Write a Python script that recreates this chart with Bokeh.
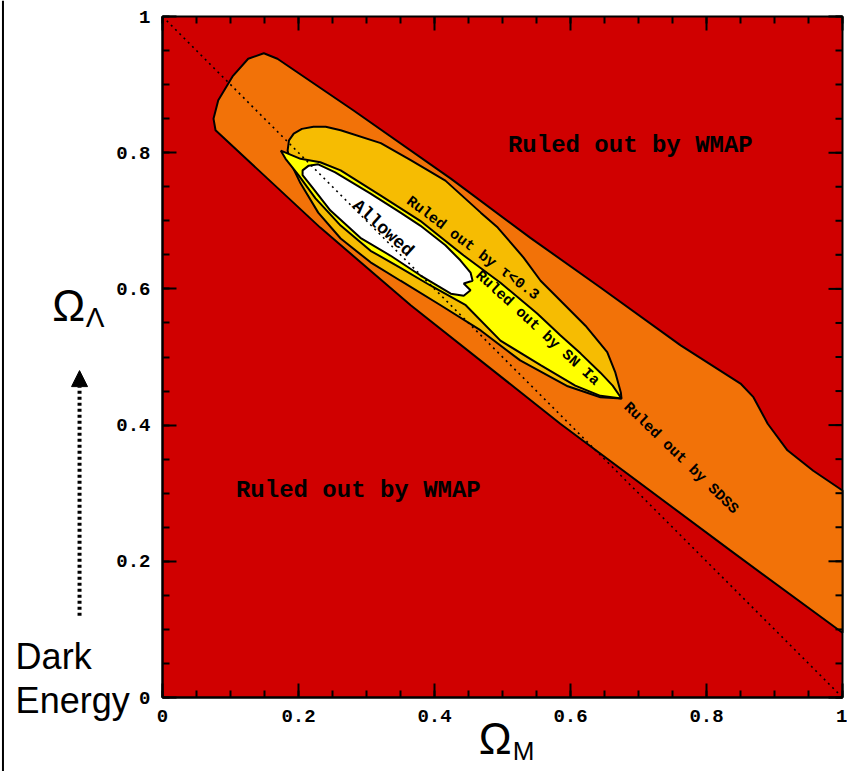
from bokeh.plotting import figure
from bokeh.models import Range1d, FixedTicker, LinearAxis, Label, Arrow, NormalHead, Span
from bokeh.embed import file_html
from bokeh.resources import INLINE
from bokeh.core.properties import value

# ---------------- data ----------------
# SDSS-allowed band (orange)
sdss_om = [0.078, 0.075, 0.082, 0.103, 0.126, 0.149, 0.169, 0.281, 0.424, 0.541, 0.644,
           0.762, 0.850, 0.869, 0.890, 0.919, 0.957, 1.000, 1.000, 0.835, 0.585, 0.365, 0.232]
sdss_ol = [0.833, 0.850, 0.877, 0.912, 0.938, 0.946, 0.938, 0.862, 0.762, 0.675, 0.602,
           0.517, 0.461, 0.441, 0.402, 0.363, 0.333, 0.304, 0.095, 0.216, 0.402, 0.576, 0.690]

# tau < 0.3 region (gold)
tau_om = [0.184, 0.186, 0.193, 0.205, 0.222, 0.240, 0.262, 0.321, 0.365, 0.416, 0.468, 0.493,
          0.531, 0.556, 0.585, 0.622, 0.654, 0.666, 0.674, 0.675, 0.644, 0.596, 0.526, 0.468,
          0.409, 0.350, 0.306, 0.262, 0.229, 0.203, 0.188]
tau_ol = [0.803, 0.818, 0.828, 0.835, 0.838, 0.838, 0.833, 0.814, 0.789, 0.759, 0.712, 0.690,
          0.646, 0.612, 0.583, 0.546, 0.507, 0.477, 0.448, 0.439, 0.441, 0.457, 0.495, 0.539,
          0.576, 0.612, 0.639, 0.674, 0.712, 0.755, 0.786]

# SN Ia region (yellow)
sn_om = [0.174, 0.203, 0.232, 0.262, 0.321, 0.379, 0.443, 0.497, 0.551, 0.585, 0.615, 0.644,
         0.662, 0.675, 0.644, 0.607, 0.556, 0.497, 0.446, 0.394, 0.350, 0.306, 0.262, 0.225,
         0.200, 0.181]
sn_ol = [0.803, 0.791, 0.786, 0.774, 0.737, 0.700, 0.649, 0.609, 0.564, 0.532, 0.505, 0.477,
         0.458, 0.439, 0.443, 0.458, 0.488, 0.524, 0.576, 0.605, 0.631, 0.656, 0.693, 0.733,
         0.767, 0.791]

# Allowed region (white)
ok_om = [0.206, 0.215, 0.229, 0.254, 0.306, 0.350, 0.379, 0.416, 0.438, 0.453, 0.456, 0.443,
         0.453, 0.443, 0.424, 0.379, 0.335, 0.291, 0.247, 0.218, 0.206]
ok_ol = [0.774, 0.781, 0.783, 0.771, 0.740, 0.712, 0.693, 0.664, 0.642, 0.624, 0.612, 0.608,
         0.598, 0.590, 0.593, 0.620, 0.649, 0.675, 0.715, 0.752, 0.767]

# flat universe line
flat_om = [0.0, 1.0]
flat_ol = [1.0, 0.0]

# plotted domain
dom_min = 0.0
dom_max = 1.0

major_ticks = [0, 0.2, 0.4, 0.6, 0.8, 1]
minor_ticks = [0.05 * i for i in range(21)]
tick_labels = {0: "0", 0.2: "0.2", 0.4: "0.4", 0.6: "0.6", 0.8: "0.8", 1: "1"}

RED = "#D00000"
ORANGE = "#F27208"
GOLD = "#F6BC02"
YELLOW = "#FFFF00"

# ---------------- layout ----------------
W, H = 847, 771
box_left, box_right, box_top, box_bottom = 162, 842, 16, 697   # pixel edges of the plot box
sx = (box_right - box_left)
sy = (box_bottom - box_top)
x_range = Range1d(-box_left / sx, (W - box_left) / sx)
y_range = Range1d(-(H - box_bottom) / sy, box_bottom / sy)

p = figure(width=W, height=H, x_range=x_range, y_range=y_range,
           output_backend="svg", toolbar_location=None, min_border=0,
           x_axis_location=None, y_axis_location=None)
p.background_fill_color = "white"
p.border_fill_color = "white"
p.outline_line_color = None
p.grid.visible = False

mono = "Liberation Mono"

# red "ruled out" background of the box
p.quad(left=[dom_min], right=[dom_max], bottom=[dom_min], top=[dom_max],
       fill_color=RED, line_color="black", line_width=2)

p.patch(sdss_om, sdss_ol, fill_color=ORANGE, line_color="black", line_width=2)
p.patch(tau_om, tau_ol, fill_color=GOLD, line_color="black", line_width=2)
p.patch(sn_om, sn_ol, fill_color=YELLOW, line_color="black", line_width=2)
p.patch(ok_om, ok_ol, fill_color="white", line_color="black", line_width=2)
p.line(flat_om, flat_ol, line_color="black", line_width=1.6, line_dash="2 4")


def make_axis(loc):
    ax = LinearAxis(ticker=FixedTicker(ticks=major_ticks, minor_ticks=minor_ticks),
                    bounds=(dom_min, dom_max), fixed_location=loc,
                    major_tick_in=14, major_tick_out=0, minor_tick_in=7, minor_tick_out=0,
                    major_tick_line_width=2, minor_tick_line_width=2, axis_line_width=2,
                    major_label_overrides=tick_labels,
                    major_label_text_font=mono, major_label_text_font_style="bold",
                    major_label_text_font_size="19px", major_label_text_color="black",
                    major_label_standoff=12)
    return ax


p.add_layout(make_axis(dom_min), "below")
p.add_layout(make_axis(dom_min), "left")

# inward ticks on the top and right edges of the box
n_maj, n_min = len(major_ticks), len(minor_ticks)
p.ray(x=major_ticks, y=[dom_max] * n_maj, length=14, length_units="screen",
      angle=-90, angle_units="deg", line_color="black", line_width=2)
p.ray(x=minor_ticks, y=[dom_max] * n_min, length=7, length_units="screen",
      angle=-90, angle_units="deg", line_color="black", line_width=2)
p.ray(x=[dom_max] * n_maj, y=major_ticks, length=14, length_units="screen",
      angle=180, angle_units="deg", line_color="black", line_width=2)
p.ray(x=[dom_max] * n_min, y=minor_ticks, length=7, length_units="screen",
      angle=180, angle_units="deg", line_color="black", line_width=2)

# region labels
p.text(x=[0.688, 0.288], y=[0.811, 0.304], text=["Ruled out by WMAP", "Ruled out by WMAP"],
       text_font=value(mono), text_font_style="bold", text_font_size="24px",
       text_align="center", text_baseline="middle", text_color="black")
p.text(x=[0.324], y=[0.689], text=["Allowed"], angle=-42, angle_units="deg",
       text_font=value(mono), text_font_style="bold", text_font_size="18px",
       text_align="center", text_baseline="middle", text_color="black")
p.text(x=[0.456, 0.551, 0.762], y=[0.659, 0.542, 0.351],
       text=["Ruled out by \u03c4<0.3", "Ruled out by SN Ia", "Ruled out by SDSS"],
       angle=[-37, -42.5, -44], angle_units="deg",
       text_font=value(mono), text_font_style="bold", text_font_size="15px",
       text_align="center", text_baseline="middle", text_color="black")

# axis titles and side annotation
sans = "Liberation Sans"
lab = dict(text_font=sans, text_baseline="alphabetic", text_align="left", text_color="black")
p.add_layout(Label(x=-0.162, y=0.575, text="\u03a9", text_font_size="44px", **lab))
p.add_layout(Label(x=-0.113, y=0.558, text="\u039b", text_font_size="28px", **lab))
p.add_layout(Label(x=0.465, y=-0.060, text="\u03a9", text_font_size="44px", **lab))
p.add_layout(Label(x=0.515, y=-0.078, text="M", text_font_size="26px", **lab))
p.add_layout(Label(x=-0.216, y=0.060, text="Dark", text_font_size="36px", **lab))
p.add_layout(Label(x=-0.216, y=-0.004, text="Energy", text_font_size="36px", **lab))
p.add_layout(Arrow(end=NormalHead(size=16, fill_color="black", line_color="black"),
                   x_start=-0.122, y_start=0.12, x_end=-0.122, y_end=0.48,
                   line_color="black", line_width=4, line_dash="3 3"))

# frame line on the left edge of the picture
p.add_layout(Span(location=-0.2346, dimension="height", line_color="black", line_width=2))

open("out.html", "w").write(file_html(p, INLINE))
